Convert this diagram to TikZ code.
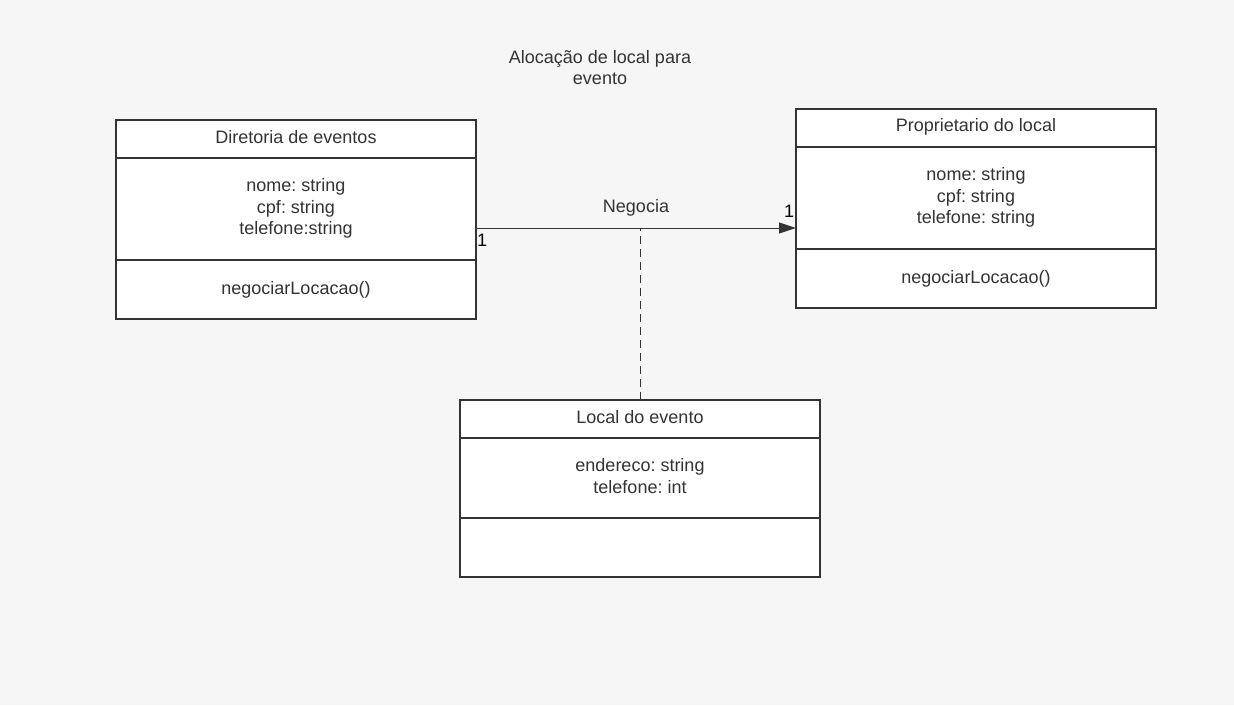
\documentclass[tikz,border=0pt]{standalone}
\usepackage{fontspec}
\setmainfont{Liberation Sans}
\frenchspacing
\usetikzlibrary{arrows.meta}
\definecolor{bg}{HTML}{F6F6F6}
\definecolor{ink}{HTML}{333333}
\begin{document}
\begin{tikzpicture}[x=1pt,y=-1pt,
  comp/.style={draw=ink, line width=2pt, fill=white, minimum width=360pt, inner sep=0pt, outer sep=0pt},
  lbl/.style={text=ink, font=\fontsize{18}{21.5}\selectfont\frenchspacing, inner sep=0pt, align=center},
  mult/.style={text=black, font=\fontsize{18}{21.5}\selectfont, inner sep=0pt}]
\fill[bg] (0,0) rectangle (1234,705);
\useasboundingbox (0,0) rectangle (1234,705);
% title
\node[lbl] (title) at (600,67.5) {Alocação de local para\\evento};
% Diretoria
\node[comp, minimum height=38pt] (dname) at (296,139) {};
\node[lbl] (dnamet) at (296,137.5) {Diretoria de eventos};
\node[comp, minimum height=102pt] (dattr) at (296,209) {};
\node[lbl] (dattrt) at (296,208.5) {nome: string\\cpf: string\\telefone:string};
\node[comp, minimum height=59pt] (dops) at (296,289.5) {};
\node[lbl] (dopst) at (296,289.5) {negociarLocacao()};
% Proprietario
\node[comp, minimum height=38pt] (pname) at (976,128) {};
\node[lbl] (pnamet) at (976,126.5) {Proprietario do local};
\node[comp, minimum height=102pt] (pattr) at (976,198) {};
\node[lbl] (pattrt) at (976,197.5) {nome: string\\cpf: string\\telefone: string};
\node[comp, minimum height=59pt] (pops) at (976,278.5) {};
\node[lbl] (popst) at (976,278.5) {negociarLocacao()};
% Local
\node[comp, minimum height=38pt] (lname) at (640,419) {};
\node[lbl] (lnamet) at (640,417.5) {Local do evento};
\node[comp, minimum height=80pt] (lattr) at (640,478) {};
\node[lbl] (lattrt) at (640,476) {endereco: string\\telefone: int};
\node[comp, minimum height=59pt] (lops) at (640,547.5) {};
% association
\coordinate (aL) at (dattr.east |- 0,228);
\coordinate (aR) at (pattr.west |- 0,228);
\coordinate (aM) at (lname.north |- 0,228);
\draw[ink, line width=1pt, -{Triangle[length=17pt,width=11pt]}] (aL) -- (aR);
\draw[ink, line width=1pt, dash pattern=on 8pt off 5pt] (lname.north) -- (aM);
\node[lbl] (neg) at (636,207.5) {Negocia};
\node[mult] (m1) at (482,240.5) {1};
\node[mult] (m2) at (789,211.5) {1};
\end{tikzpicture}
\end{document}
